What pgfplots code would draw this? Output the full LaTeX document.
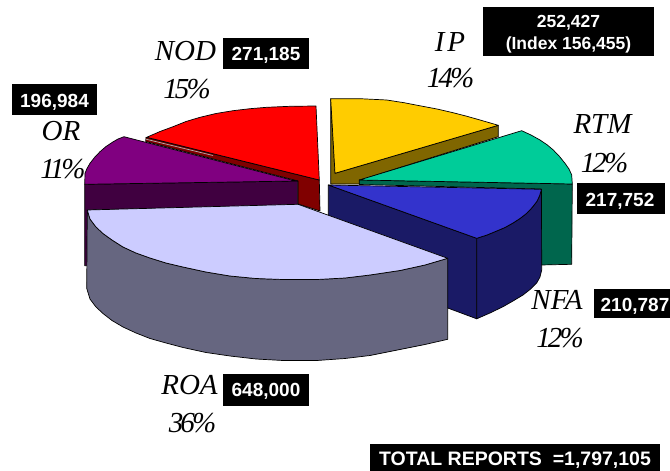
\documentclass[border=0pt]{standalone}
\usepackage{fontspec}
\usepackage{pgfplots}
\pgfplotsset{compat=1.18}
\setmainfont{Liberation Serif}
\newfontfamily\boxfont{Liberation Sans}[BoldFont={Liberation Sans Bold}]
\newfontfamily\pctfont{Liberation Serif}[LetterSpace=-10]
\definecolor{cIP}{HTML}{FFCC00}\definecolor{dIP}{HTML}{806600}
\definecolor{cRTM}{HTML}{00CC99}\definecolor{dRTM}{HTML}{00664D}
\definecolor{cNFA}{HTML}{3333CC}\definecolor{dNFA}{HTML}{1A1A66}
\definecolor{cNOD}{HTML}{FF0000}\definecolor{dNOD}{HTML}{800000}
\definecolor{cOR}{HTML}{800080}\definecolor{dOR}{HTML}{400040}
\definecolor{cROA}{HTML}{CCCCFF}\definecolor{dROA}{HTML}{666680}
\pgfplotsset{f/.style={fill=#1,draw=black,line width=0.7bp,line join=round},
  bx/.style={fill=black,draw=none}}
\newcommand{\lab}[3]{\node[anchor=base,inner sep=0pt] at (axis cs:#1,#2) {\fontsize{29bp}{29bp}\selectfont\itshape #3};}
\newcommand{\pct}[3]{\node[anchor=base,inner sep=0pt] at (axis cs:#1,#2) {\fontsize{29bp}{29bp}\selectfont\pctfont\itshape #3};}
\newcommand{\val}[3]{\node[anchor=base,inner sep=0pt,text=white] at (axis cs:#1,#2) {\fontsize{19bp}{19bp}\selectfont\boxfont\bfseries #3};}
\begin{document}
\begin{tikzpicture}
\useasboundingbox (0,0) rectangle (670bp,471bp);
\begin{axis}[at={(0,0)},anchor=south west,scale only axis,width=670bp,height=471bp,
  xmin=0,xmax=670,ymin=0,ymax=471,y dir=reverse,hide axis]
% IP
\addplot[f=dIP] coordinates {(330.7,98.7)(335,173.3)(498.3,125.3)(498.3,136.7)(360,180)(360,184)(330.7,184)} -- cycle;
\addplot[f=cIP] coordinates {(330.7,98.7)(360,98.7)(386.7,100)(404,102.7)(420,105.8)(437,109)(453,112.7)(467,116.3)(480,120)(498.3,125.3)(335,173.3)} -- cycle;
% RTM
\addplot[f=dRTM] coordinates {(359.3,180)(572.3,184)(571.7,264.3)(541,265)(541,189)(359.3,184.5)} -- cycle;
\addplot[f=cRTM] coordinates {(359.3,180)(521.7,130.7)(531,135)(540,140)(547,144.7)(553.3,150)(559.5,156.5)(565,163.3)(569,169)(571.7,175)(572.3,184)} -- cycle;
% NOD
\addplot[f=dNOD] coordinates {(146,137.3)(319.3,180)(320,211)(298,204)(298,181)(145.7,141.5)} -- cycle;
\addplot[draw=gray!60,line width=0.7bp] coordinates {(146,139.2)(213,155.5)};
\addplot[f=cNOD] coordinates {(146.7,137.3)(160,131.5)(173,126.7)(186,121.5)(200,117.3)(216,113.5)(233,110.7)(250,108.7)(266.7,107.3)(290,106.3)(316,106)(319.3,180)} -- cycle;
% OR
\addplot[f=dOR] coordinates {(84.7,184.3)(297.7,181)(297.7,205)(88,210)(88,265.7)(84.7,265.7)} -- cycle;
\addplot[f=cOR] coordinates {(124,136.7)(118,139)(113.3,141.7)(106,146.5)(100,151.7)(94.5,157.5)(90,163.3)(87,168.5)(85,173.3)(84.7,184.3)(297.7,181)(291.7,180)} -- cycle;
% NFA
\addplot[f=dNFA] coordinates {(328.3,185)(476.7,238.3)(476.7,318.8)(447.7,308)(328.3,215)} -- cycle;
\addplot[f=dNFA] coordinates {(476.7,238.3)(487,235)(496.7,231)(505,227.5)(513,223)(520,218.5)(526.7,213.3)(532,207.7)(536.7,201.7)(539.5,196)(541.5,189.3)(541.7,270)(540,277)(536.7,283)(530,289.5)(523,295)(513,301)(503,306.7)(490,313)(476.7,318.8)} -- cycle;
\addplot[f=cNFA] coordinates {(328.3,185)(541.5,189.3)(539.5,196)(536.7,201.7)(532,207.7)(526.7,213.3)(520,218.5)(513,223)(505,227.5)(496.7,231)(487,235)(476.7,238.3)} -- cycle;
% ROA
\addplot[f=dROA] coordinates {(87.3,210)(90,219)(96,227)(103,233.5)(112,240)(123,247)(136,253)(150,258)(166,263)(183,267)(206,272)(230,276)(256,278.5)(283,279.5)(317,279.5)(345,278)(370,275)(400,270.5)(425,265)(447.7,258.3)(447.7,339.3)(425,344.5)(400,349.5)(370,355.5)(345,358.5)(317,360.5)(283,360.5)(256,359)(230,356)(206,352.5)(183,347.5)(166,343)(150,338.5)(136,333)(123,327)(112,320.5)(103,313.5)(96,307)(90,299)(86.7,288.3)} -- cycle;
\addplot[f=cROA] coordinates {(87.3,210)(298,204.3)(447.7,258.3)(425,265)(400,270.5)(370,275)(345,278)(317,279.5)(283,279.5)(256,278.5)(230,276)(206,272)(183,267)(166,263)(150,258)(136,253)(123,247)(112,240)(103,233.5)(96,227)(90,219)} -- cycle;
% boxes
\addplot[bx] coordinates {(223,38)(309,38)(309,68.7)(223,68.7)} -- cycle;
\addplot[bx] coordinates {(12,84)(97,84)(97,114.7)(12,114.7)} -- cycle;
\addplot[bx] coordinates {(483,7)(654,7)(654,55.7)(483,55.7)} -- cycle;
\addplot[bx] coordinates {(577,183)(665,183)(665,213.7)(577,213.7)} -- cycle;
\addplot[bx] coordinates {(593.7,288.6)(670,288.6)(670,318.3)(593.7,318.3)} -- cycle;
\addplot[bx] coordinates {(223,374.4)(309,374.4)(309,405.5)(223,405.5)} -- cycle;
\addplot[bx] coordinates {(369.7,444.3)(659.6,444.3)(659.6,471)(369.7,471)} -- cycle;
% labels
\lab{185.5}{61}{NOD}\pct{187}{98}{15\%}
\lab{61}{140}{OR}\pct{63}{178}{11\%}
\lab{450}{52}{I\kern3bp P}\pct{450.5}{88}{14\%}
\lab{602.5}{133}{RTM}\pct{604.5}{172}{12\%}
\lab{557}{309}{NFA}\pct{560}{347}{12\%}
\lab{189.5}{394}{ROA}\pct{192.5}{432}{36\%}
% values
\val{266}{60.5}{271,185}
\val{54.5}{107}{196,984}
\val{620}{206.5}{217,752}
\val{635}{311}{210,787}
\val{266}{396}{648,000}
\node[anchor=base,inner sep=0pt,text=white] at (axis cs:568.5,27.5) {\fontsize{17.5bp}{17.5bp}\selectfont\boxfont\bfseries 252,427};
\node[anchor=base,inner sep=0pt,text=white] at (axis cs:568.5,49.5) {\fontsize{17.5bp}{17.5bp}\selectfont\boxfont\bfseries (Index 156,455)};
\node[anchor=base,inner sep=0pt,text=white] at (axis cs:515,465) {\fontsize{19.5bp}{19.5bp}\selectfont\boxfont\bfseries TOTAL REPORTS\ \ =1,797,105};
\end{axis}
\end{tikzpicture}
\end{document}
